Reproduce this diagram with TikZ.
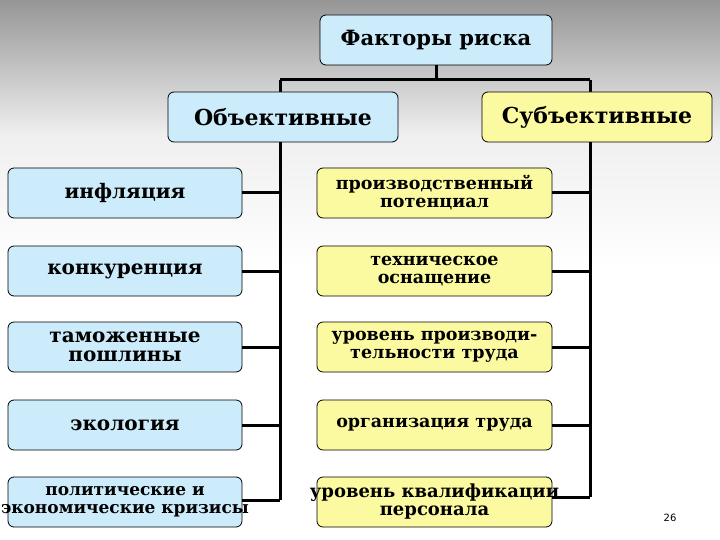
\documentclass[tikz,border=0pt]{standalone}
\usepackage{fontspec}
\setmainfont{DejaVu Serif}
\newfontfamily\pgnum{DejaVu Sans}
\definecolor{bxblue}{RGB}{204,236,252}
\definecolor{bxyel}{RGB}{252,250,160}
\definecolor{bgtop}{RGB}{150,150,150}
\begin{document}
\begin{tikzpicture}[x=1pt,y=-1pt,
  bx/.style={draw=black,line width=0.8pt,rounded corners=6pt,align=center,inner ysep=0pt,inner xsep=-30pt},
  blu/.style={bx,fill=bxblue},
  yel/.style={bx,fill=bxyel},
  con/.style={line width=3pt}]
\useasboundingbox (0,0) rectangle (720,540);
\shade[top color=bgtop,bottom color=white,middle color=white!85!bgtop] (0,0) rectangle (720,270);
\fill[white] (0,270) rectangle (720,540);
\coordinate (hl) at (280,80);
\coordinate (hr) at (590,80);
\node[blu,minimum width=232pt,minimum height=50pt,font=\fontsize{21}{22}\selectfont\bfseries] (top) at (436,40) {Факторы риска};
\draw[con] (top.south) -- (436,80);
\draw[con] (hl) -- (hr);
\coordinate (lb) at (280,500);
\coordinate (rb) at (590,497);
\draw[con] (hl) -- (lb);
\draw[con] (hr) -- (rb);
\node[blu,minimum width=230pt,minimum height=50pt,font=\fontsize{22}{24}\selectfont\bfseries] (obj) at (283,117) {Объективные};
\node[yel,minimum width=230pt,minimum height=50pt,font=\fontsize{22}{24}\selectfont\bfseries] (sub) at (597,117) {Субъективные};
\tikzset{lf/.style={blu,minimum width=234pt,minimum height=50pt,font=\fontsize{20}{19}\selectfont\bfseries},
 rt/.style={yel,minimum width=235pt,minimum height=50pt,font=\fontsize{17.5}{18}\selectfont\bfseries}}
\node[lf] (l1) at (125,193) {инфляция};
\node[lf] (l2) at (125,271) {конкуренция};
\node[lf] (l3) at (125,347) {таможенные\\пошлины};
\node[lf] (l4) at (125,425) {экология};
\node[lf,font=\fontsize{17}{18}\selectfont\bfseries] (l5) at (125,502) {политические и\\экономические кризисы};
\node[rt] (r1) at (434.5,193) {производственный\\потенциал};
\node[rt] (r2) at (434.5,271) {техническое\\оснащение};
\node[rt] (r3) at (434.5,347) {уровень производи-\\тельности труда};
\node[rt] (r4) at (434.5,425) {организация труда};
\node[rt,font=\fontsize{18}{18}\selectfont\bfseries] (r5) at (434.5,502) {уровень квалификации\\персонала};
\foreach \n/\y in {l1/193,l2/271,l3/347,l4/425}{\draw[con] (\n.east) -- (280,\y);}
\draw[con] (l5.east |- lb) -- (lb);
\foreach \n/\y in {r1/193,r2/271,r3/347,r4/425}{\draw[con] (\n.east) -- (590,\y);}
\draw[con] (r5.east |- rb) -- (rb);
\node[font=\pgnum\fontsize{10}{12}\selectfont] (pg) at (670,518) {26};
\end{tikzpicture}
\end{document}
